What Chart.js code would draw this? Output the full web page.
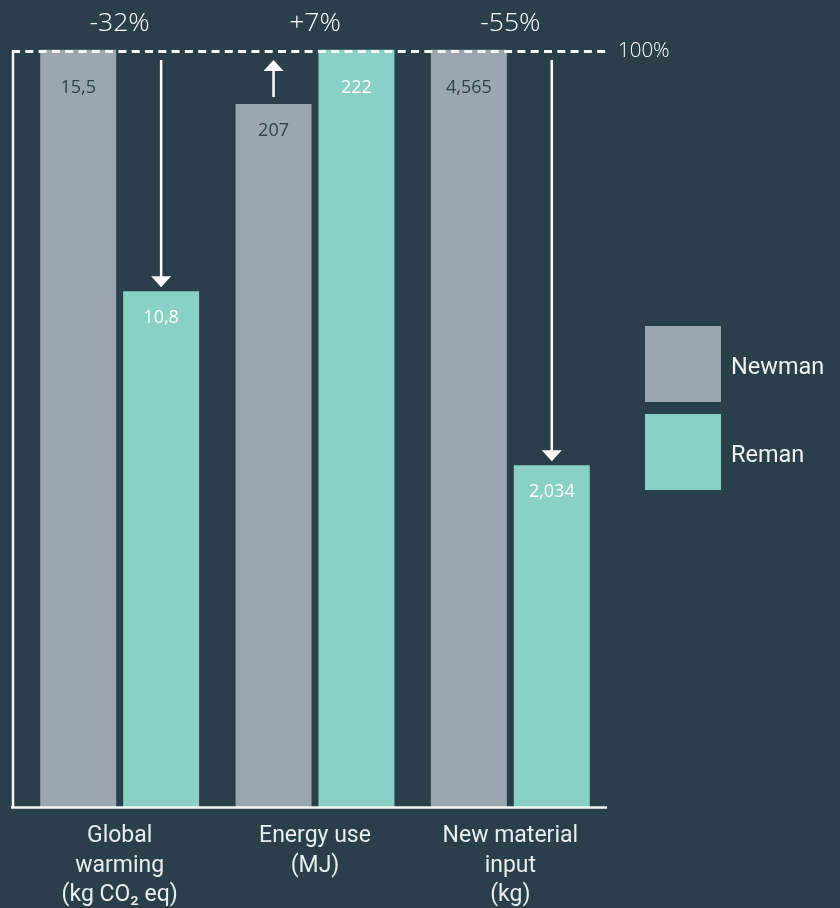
<!DOCTYPE html>
<html>
<head>
<meta charset="utf-8">
<script src="https://cdn.jsdelivr.net/npm/chart.js@4.4.1/dist/chart.umd.min.js"></script>
<style>
  html, body { margin: 0; padding: 0; background: #29404b; }
  #wrap { width: 840px; height: 908px; position: relative; }
</style>
</head>
<body>
<div id="wrap"><canvas id="c" width="840" height="908"></canvas></div>
<script>
// ---- data ----
const categories = [["Global", "warming", "(kg CO\u2082 eq)"], ["Energy use", "(MJ)"], ["New material", "input", "(kg)"]];
const seriesNames = ["Newman", "Reman"];
// bar heights as % of the larger value in each pair
const newmanPct = [100, 92.8, 100];
const remanPct = [68.1, 100, 45.1];
// value labels printed in the bars
const newmanLabels = ["15,5", "207", "4,565"];
const remanLabels = ["10,8", "222", "2,034"];
// change labels above each group
const changeLabels = ["-32%", "+7%", "-55%"];
const refLabel = "100%";

const BG = "#29404b";
const GREY = "#9aa7ae";
const TEAL = "#89d1c4";
const WHITE = "#ffffff";
const DARK = "#2b434e";

const overlay = {
  id: "overlay",
  afterDatasetsDraw(chart) {
    const ctx = chart.ctx;
    const area = chart.chartArea;
    const ys = chart.scales.y;
    const m0 = chart.getDatasetMeta(0);
    const m1 = chart.getDatasetMeta(1);
    const y100 = ys.getPixelForValue(100);
    ctx.save();

    // axes lines
    ctx.strokeStyle = "#f4f6f6";
    ctx.lineWidth = 2.5;
    ctx.beginPath();
    ctx.moveTo(13, y100 + 1.5);
    ctx.lineTo(13, area.bottom + 1);
    ctx.stroke();
    ctx.beginPath();
    ctx.moveTo(11, area.bottom + 0.5);
    ctx.lineTo(607, area.bottom + 0.5);
    ctx.stroke();

    // dashed 100% line
    ctx.setLineDash([8, 5.3]);
    ctx.lineWidth = 3;
    ctx.beginPath();
    ctx.moveTo(12, y100 + 2);
    ctx.lineTo(608, y100 + 2);
    ctx.stroke();
    ctx.setLineDash([]);

    ctx.fillStyle = WHITE;
    ctx.font = "300 20.5px 'Open Sans'";
    ctx.textAlign = "left";
    ctx.textBaseline = "middle";
    ctx.fillText(refLabel, 618, y100 + 2);

    // value labels
    ctx.font = "18px 'Open Sans'";
    ctx.textAlign = "center";
    const drawVal = (bar, txt, color) => {
      ctx.fillStyle = color;
      const y = Math.max(bar.y + 27, y100 + 38);
      ctx.fillText(txt, bar.x, y);
    };
    m0.data.forEach((b, i) => drawVal(b, newmanLabels[i], DARK));
    m1.data.forEach((b, i) => drawVal(b, remanLabels[i], WHITE));

    // change labels + arrows
    ctx.font = "300 26.5px 'Open Sans'";
    ctx.textBaseline = "middle";
    for (let i = 0; i < categories.length; i++) {
      const b0 = m0.data[i], b1 = m1.data[i];
      const cx = (b0.x + b1.x) / 2;
      ctx.fillStyle = WHITE;
      ctx.fillText(changeLabels[i], cx, 23);

      const down = remanPct[i] < newmanPct[i];
      const small = down ? b1 : b0;
      const ax = small.x;
      const topY = y100 + 10.5;
      ctx.strokeStyle = WHITE;
      ctx.lineWidth = 2.5;
      ctx.beginPath();
      if (down) {
        const tip = small.y - 4;
        ctx.moveTo(ax, topY);
        ctx.lineTo(ax, tip - 10);
        ctx.stroke();
        ctx.beginPath();
        ctx.moveTo(ax - 10, tip - 11);
        ctx.lineTo(ax + 10, tip - 11);
        ctx.lineTo(ax, tip);
        ctx.closePath();
        ctx.fill();
      } else {
        const bottom = small.y - 7;
        ctx.moveTo(ax, bottom);
        ctx.lineTo(ax, topY + 10);
        ctx.stroke();
        ctx.beginPath();
        ctx.moveTo(ax - 10, topY + 11);
        ctx.lineTo(ax + 10, topY + 11);
        ctx.lineTo(ax, topY);
        ctx.closePath();
        ctx.fill();
      }
    }

    // legend
    const cols = [GREY, TEAL];
    const ly = [326, 414];
    ctx.font = "23.5px Roboto";
    ctx.textAlign = "left";
    ctx.textBaseline = "middle";
    for (let k = 0; k < 2; k++) {
      ctx.fillStyle = cols[k];
      ctx.fillRect(645, ly[k], 76, 76);
      ctx.fillStyle = "#eef2f2";
      ctx.fillText(seriesNames[k], 731, ly[k] + 42);
    }
    ctx.restore();
  }
};

new Chart(document.getElementById("c"), {
  type: "bar",
  data: {
    labels: categories,
    datasets: [
      { label: seriesNames[0], data: newmanPct, backgroundColor: GREY, borderWidth: 0 },
      { label: seriesNames[1], data: remanPct, backgroundColor: TEAL, borderWidth: 0 }
    ]
  },
  options: {
    responsive: false,
    animation: false,
    devicePixelRatio: 1,
    layout: { padding: { left: 22, right: 232, top: 49.5, bottom: 0 } },
    plugins: { legend: { display: false }, tooltip: { enabled: false } },
    datasets: { bar: { categoryPercentage: 0.849, barPercentage: 0.916 } },
    scales: {
      x: {
        grid: { display: false, drawTicks: false },
        border: { display: false },
        ticks: {
          color: "#e8eded",
          font: { family: "Roboto", size: 23, lineHeight: 1.27 },
          padding: 15,
          maxRotation: 0,
          autoSkip: false
        },
        afterFit(scale) { scale.height = 101; }
      },
      y: {
        display: false,
        min: 0,
        max: 100
      }
    }
  },
  plugins: [overlay]
});
</script>
</body>
</html>
